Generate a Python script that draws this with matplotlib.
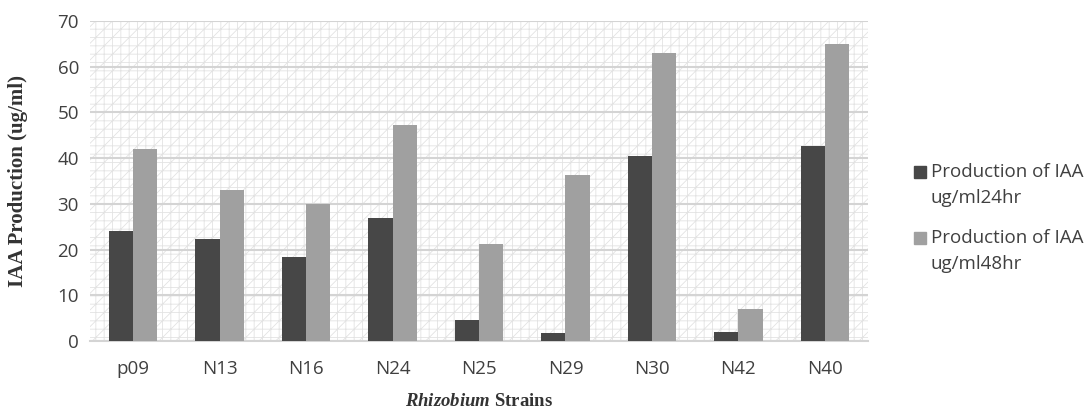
import numpy as np
import matplotlib.pyplot as plt
from matplotlib.patches import Rectangle

# data
strains = ["p09", "N13", "N16", "N24", "N25", "N29", "N30", "N42", "N40"]
iaa_24hr = [24.0, 22.3, 18.3, 27.0, 4.6, 1.7, 40.5, 2.0, 42.7]
iaa_48hr = [42.0, 33.0, 30.0, 47.3, 21.3, 36.4, 63.0, 7.0, 65.0]
series_labels = [("Production of IAA", "ug/ml24hr"), ("Production of IAA", "ug/ml48hr")]
series_colors = ['#474747', '#a0a0a0']
yticks = [0, 10, 20, 30, 40, 50, 60, 70]

plt.rcParams['hatch.linewidth'] = 0.6
plt.rcParams['mathtext.fontset'] = 'custom'
plt.rcParams['mathtext.bfit'] = 'Liberation Serif:bold:italic'
plt.rcParams['mathtext.bf'] = 'Liberation Serif:bold'
plt.rcParams['mathtext.it'] = 'Liberation Serif:italic'

W, H = 1088, 411
fig = plt.figure(figsize=(W / 100, H / 100), dpi=100)
ax = fig.add_axes([90 / W, 70 / H, 778 / W, 320 / H])

# patterned plot background
bg = Rectangle((0, 0), 1, 1, transform=ax.transAxes, facecolor='white',
               edgecolor='#e3e3e3', hatch='++//', lw=0, zorder=0)
ax.add_patch(bg)

x = np.arange(len(strains))
w = 0.28
ax.bar(x - w / 2, iaa_24hr, w, color=series_colors[0], zorder=3)
ax.bar(x + w / 2, iaa_48hr, w, color=series_colors[1], zorder=3)

ax.set_xlim(-0.5, len(strains) - 0.5)
ax.set_ylim(0, 70)
ax.set_yticks(yticks)
ax.set_xticks(x)
ax.set_xticklabels(strains)
ax.yaxis.grid(True, color='#d4d4d4', lw=1.5, zorder=1)
ax.set_axisbelow(True)
for s in ['left', 'right', 'top']:
    ax.spines[s].set_visible(False)
ax.spines['bottom'].set_color('#d4d4d4')
ax.spines['bottom'].set_linewidth(1.5)
ax.tick_params(length=0, labelsize=13.5, labelcolor='#404040', pad=8)
ax.tick_params(axis='x', pad=14)
for lab in ax.get_xticklabels() + ax.get_yticklabels():
    lab.set_family('Open Sans')

ax.set_ylabel("IAA Production (ug/ml)", family='Liberation Serif',
              fontweight='bold', fontsize=15, color='#333333')
ax.yaxis.set_label_coords(-62 / 778, 0.5)
ax.set_xlabel(r"$\mathbfit{Rhizobium}$ Strains", family='Liberation Serif',
              fontweight='bold', fontsize=13.5, color='#333333')
ax.xaxis.set_label_coords(0.5, -52 / 320)

# legend, drawn as in the source (square aligned with first line)
for i, (lab, col) in enumerate(zip(series_labels, series_colors)):
    yc = 172 + 66 * i
    fig.patches.append(Rectangle((914 / W, 1 - (yc + 6) / H), 12 / W, 12 / H,
                                 transform=fig.transFigure, color=col))
    fig.text(931 / W, 1 - yc / H, lab[0], va='center', ha='left',
             family='Open Sans', fontsize=13.5, color='#404040')
    fig.text(931 / W, 1 - (yc + 26) / H, lab[1], va='center', ha='left',
             family='Open Sans', fontsize=13.5, color='#404040')

plt.savefig("out.png", dpi=100)
